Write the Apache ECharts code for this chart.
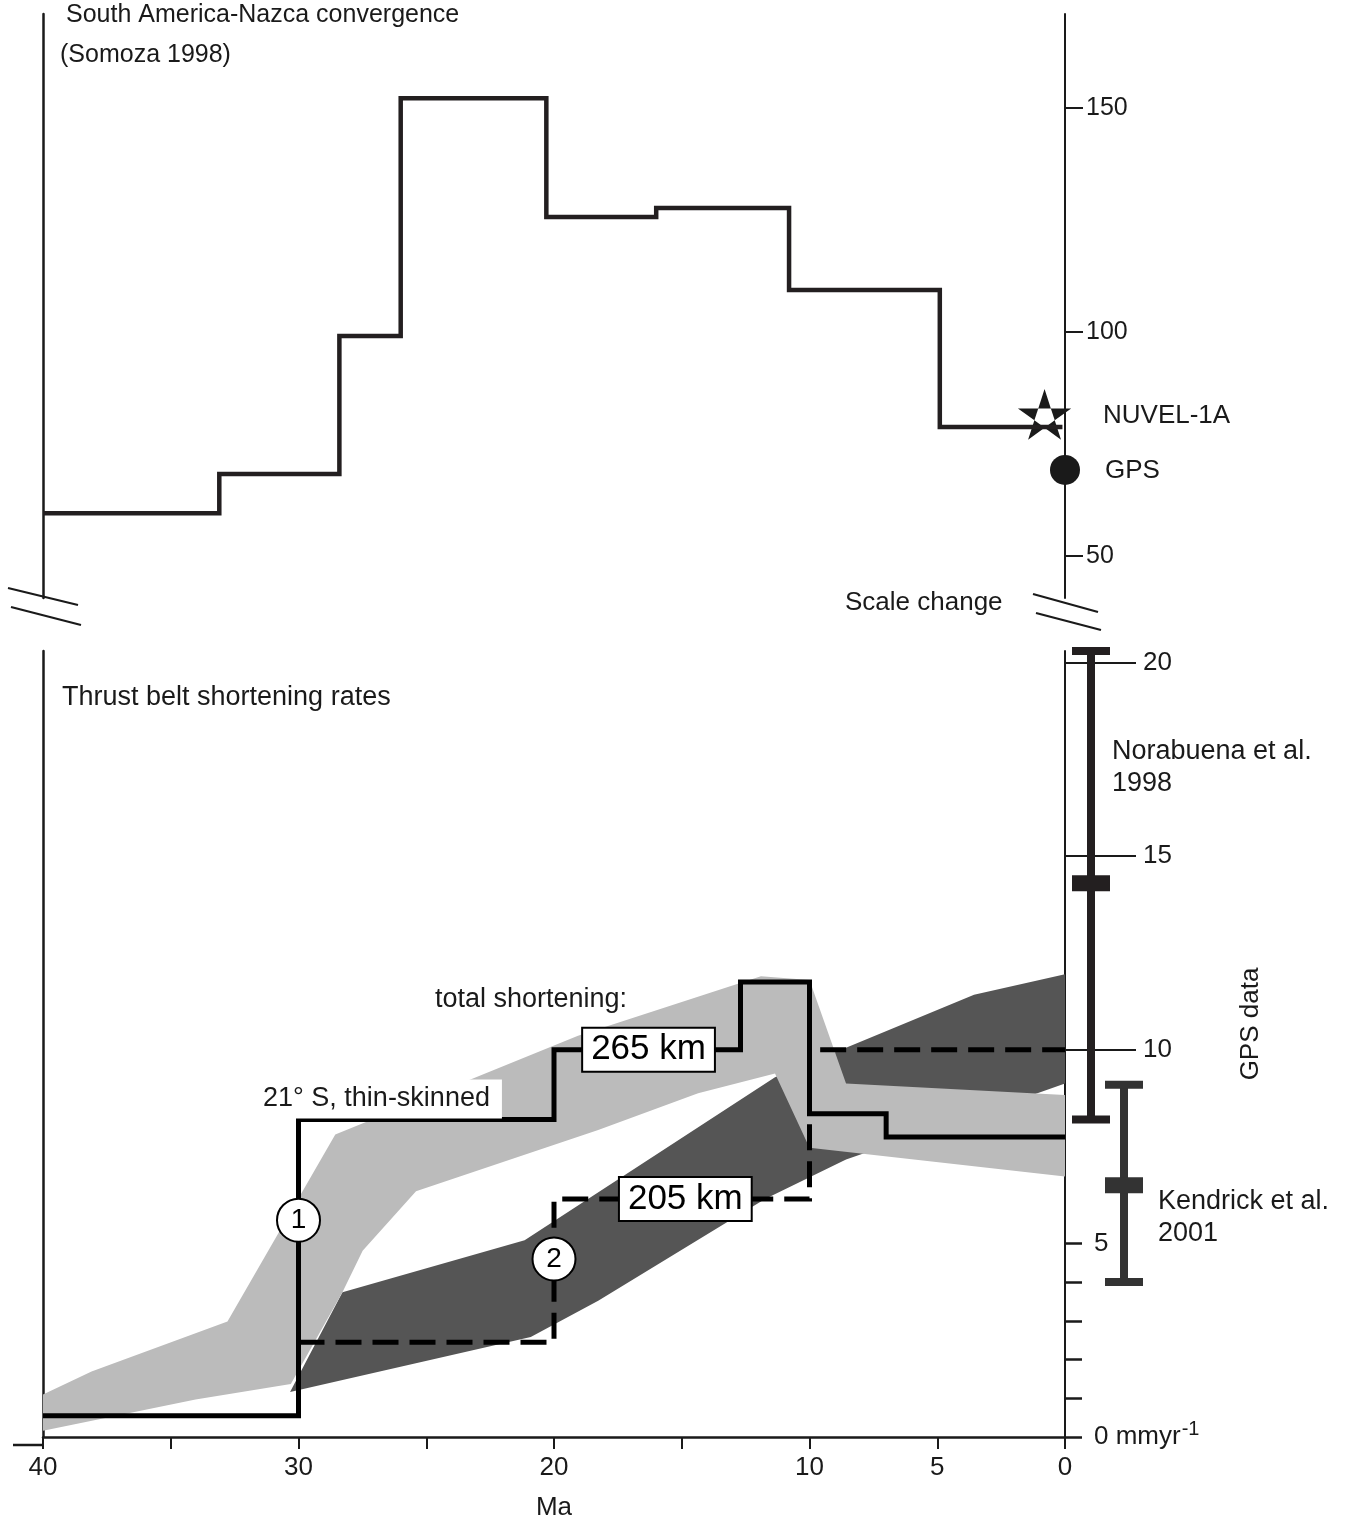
<!DOCTYPE html>
<html>
<head>
<meta charset="utf-8">
<script src="https://cdn.jsdelivr.net/npm/echarts@6/dist/echarts.min.js"></script>
<style>
  html, body { margin: 0; padding: 0; background: #fff; }
  #chart { width: 1358px; height: 1526px; }
</style>
</head>
<body>
<div id="chart"></div>
<script>
// ---------------- data ----------------
// South America–Nazca convergence (mm/yr), constant between age boundaries (Ma)
const convergenceEdgesMa = [40, 33.1, 28.4, 26.0, 20.3, 16.0, 10.8, 4.9, 0.1];
const convergenceRates   = [59.5, 68.3, 99.1, 152.2, 125.7, 127.7, 109.4, 78.8];
const nuvelPoint = [0.8, 81.0];   // NUVEL-1A
const gpsPoint   = [0, 69.2];     // GPS

// Thrust belt shortening rates (mm/yr)
// 1: 21° S thin-skinned (solid)
const beltOneEdgesMa = [40, 30, 20, 12.7, 10, 7, 0];
const beltOneRates   = [0.55, 8.2, 10.0, 11.75, 8.35, 7.75];
// 2: dashed estimate
const beltTwoEdgesMa = [30, 20, 10, 0];
const beltTwoRates   = [2.45, 6.15, 10.0];

// shaded envelopes, [Ma, mm/yr]
const lightBandUpper = [[40, 1.10], [38.1, 1.69], [32.78, 2.98], [28.56, 7.81], [19.06, 10.36],
                        [11.9, 11.9], [10.0, 11.8], [8.57, 9.13], [0, 8.83]];
const lightBandLower = [[40, 0.16], [34.03, 0.97], [30.3, 1.37], [28.28, 3.74], [27.49, 4.81],
                        [25.4, 6.35], [18.27, 7.93], [14.36, 8.88], [11.35, 9.39], [10.0, 7.47], [0, 6.73]];
const darkBandUpper  = [[30.33, 1.16], [28.28, 3.74], [21.15, 5.08], [11.35, 9.29], [8.57, 10.05],
                        [3.56, 11.42], [0, 11.95]];
const darkBandLower  = [[30.33, 1.16], [20.91, 2.58], [18.27, 3.52], [11.74, 6.15], [8.57, 7.17],
                        [1.08, 8.88], [0, 9.13]];

// circled curve numbers and total shortening boxes
const curveMarkers = [[30, 5.6, '1'], [20, 4.6, '2']];
const totalShortening = [[16.3, 10.0, '265 km'], [14.86, 6.15, '205 km']];

// GPS rates: Norabuena et al. 1998, Kendrick et al. 2001
const gpsNames = ['Norabuena et al.\n1998', 'Kendrick et al.\n2001'];
const gpsMid   = [14.3, 6.5];
const gpsLow   = [8.2, 4.0];
const gpsHigh  = [20.3, 9.1];

// axis ticks
const ageTicksLabelled   = [40, 30, 20, 10, 5, 0];
const convergenceTicks   = [50, 100, 150];
const rateMajorTicks     = [10, 15, 20];
const rateMinorTicks     = [0, 1, 2, 3, 4, 5];
const rateMinorLabels    = [0, 5];

// ---------------- layout / style ----------------
const INK = '#1a1a1a';
const FONT = '"Liberation Sans", Arial, Helvetica, sans-serif';
const font = s => s + 'px ' + FONT;
const PLOT_LEFT = 43;
const PLOT_RIGHT = 293;           // distance from the right edge of the canvas
const TOP_GRID = { top: 14, height: 584 };
const BOTTOM_GRID = { top: 651, height: 794 };
const BOTTOM_Y = BOTTOM_GRID.top + BOTTOM_GRID.height;
const GPS_BAR_OFFSETS = [26, 59];  // px right of the rate axis
const GPS_BAR_COLORS = ['#231f20', '#333333'];

function stepPoints(edges, rates) {
  const pts = [];
  rates.forEach((r, i) => { pts.push([edges[i], r]); pts.push([edges[i + 1], r]); });
  return pts;
}
function bandPolygon(upper, lower) {
  return upper.concat(lower.slice().reverse());
}

const hiddenAxisParts = {
  axisLine: { show: false }, axisTick: { show: false },
  axisLabel: { show: false }, splitLine: { show: false }
};
const frameAxis = (gridIndex, min, max) => ({
  type: 'value', gridIndex, position: 'left', min, max,
  axisLine: { show: true, onZero: false, lineStyle: { color: INK, width: 2.5 } },
  axisTick: { show: false }, axisLabel: { show: false }, splitLine: { show: false }
});

const chart = echarts.init(document.getElementById('chart'), null, { renderer: 'canvas' });

const option = {
  animation: false,
  backgroundColor: '#fff',
  grid: [
    { left: PLOT_LEFT, right: PLOT_RIGHT, top: TOP_GRID.top, height: TOP_GRID.height },
    { left: PLOT_LEFT, right: PLOT_RIGHT, top: BOTTOM_GRID.top, height: BOTTOM_GRID.height }
  ],
  xAxis: [
    Object.assign({ type: 'value', gridIndex: 0, min: 0, max: 40, inverse: true }, hiddenAxisParts),
    {
      type: 'value', gridIndex: 1, min: 0, max: 40, interval: 5, inverse: true,
      name: 'Ma', nameLocation: 'middle', nameGap: 58,
      nameTextStyle: { fontSize: 26, color: INK, fontFamily: FONT },
      axisLine: { onZero: false, lineStyle: { color: INK, width: 2.5 } },
      axisTick: { length: 12, lineStyle: { color: INK, width: 2 } },
      axisLabel: {
        margin: 18, fontSize: 26, color: INK, fontFamily: FONT,
        formatter: v => ageTicksLabelled.includes(v) ? String(v) : ''
      },
      splitLine: { show: false }
    }
  ],
  yAxis: [
    {
      type: 'value', gridIndex: 0, position: 'right', min: 40.6, max: 171,
      axisLine: { show: true, onZero: false, lineStyle: { color: INK, width: 2 } },
      axisTick: { show: true, customValues: convergenceTicks, length: 18, lineStyle: { color: INK, width: 2 } },
      axisLabel: { customValues: convergenceTicks, margin: 21, fontSize: 25, color: INK, fontFamily: FONT },
      splitLine: { show: false }
    },
    frameAxis(0, 40.6, 171),
    {
      type: 'value', gridIndex: 1, position: 'right', min: 0, max: 20.3,
      axisLine: { show: true, onZero: false, lineStyle: { color: INK, width: 2 } },
      axisTick: { show: true, customValues: rateMajorTicks, length: 71, lineStyle: { color: INK, width: 2 } },
      axisLabel: { customValues: rateMajorTicks, margin: 78, fontSize: 26, color: INK, fontFamily: FONT },
      splitLine: { show: false }
    },
    {
      type: 'value', gridIndex: 1, position: 'right', min: 0, max: 20.3,
      axisLine: { show: false, onZero: false },
      axisTick: { show: true, customValues: rateMinorTicks, length: 17, lineStyle: { color: INK, width: 2.5 } },
      axisLabel: {
        customValues: rateMinorLabels, margin: 29, fontSize: 26, color: INK, fontFamily: FONT,
        formatter: v => v === 0 ? '0 mmyr{sup|-1}' : String(v),
        rich: { sup: { fontSize: 20, fontFamily: FONT, color: INK, padding: [0, 0, 16, 1] } }
      },
      splitLine: { show: false }
    },
    frameAxis(1, 0, 20.3)
  ],
  series: [
    // ---- convergence panel ----
    {
      type: 'custom', coordinateSystem: 'cartesian2d', xAxisIndex: 0, yAxisIndex: 0, z: 2, silent: true,
      data: [nuvelPoint],
      renderItem: (params, api) => {
        const c = api.coord([api.value(0), api.value(1)]);
        const R = 28, r = R * 0.382;
        const star = [], inner = [];
        for (let k = 0; k < 10; k++) {
          const a = -Math.PI / 2 + k * Math.PI / 5;
          const rad = k % 2 === 0 ? R : r;
          star.push([c[0] + rad * Math.cos(a), c[1] + rad * Math.sin(a)]);
          if (k % 2 === 1) inner.push([c[0] + r * Math.cos(a), c[1] + r * Math.sin(a)]);
        }
        return { type: 'group', children: [
          { type: 'polygon', shape: { points: star }, style: { fill: INK } },
          { type: 'polygon', shape: { points: inner }, style: { fill: '#fff' } }
        ] };
      }
    },
    {
      type: 'line', xAxisIndex: 0, yAxisIndex: 0, z: 3, silent: true,
      data: stepPoints(convergenceEdgesMa, convergenceRates),
      symbol: 'none',
      lineStyle: { color: '#231f20', width: 4.5, join: 'miter', cap: 'butt' }
    },
    {
      type: 'scatter', xAxisIndex: 0, yAxisIndex: 0, z: 4, silent: true,
      data: [gpsPoint], symbol: 'circle', symbolSize: 30,
      itemStyle: { color: INK, opacity: 1 }
    },
    // ---- shortening panel ----
    {
      type: 'custom', coordinateSystem: 'cartesian2d', xAxisIndex: 1, yAxisIndex: 2, z: 1, silent: true,
      data: [[0, 0]],
      renderItem: (params, api) => ({ type: 'group', children: [
        { type: 'polygon', shape: { points: bandPolygon(darkBandUpper, darkBandLower).map(p => api.coord(p)) },
          style: { fill: '#555555' } },
        { type: 'polygon', shape: { points: bandPolygon(lightBandUpper, lightBandLower).map(p => api.coord(p)) },
          style: { fill: '#bbbbbb' } }
      ] })
    },
    {
      type: 'line', xAxisIndex: 1, yAxisIndex: 2, z: 3, silent: true,
      data: stepPoints(beltTwoEdgesMa, beltTwoRates), symbol: 'none',
      lineStyle: { color: '#000', width: 5, type: [26, 11], join: 'miter', cap: 'butt' }
    },
    {
      type: 'line', xAxisIndex: 1, yAxisIndex: 2, z: 4, silent: true,
      data: stepPoints(beltOneEdgesMa, beltOneRates), symbol: 'none',
      lineStyle: { color: '#000', width: 5, join: 'miter', cap: 'butt' }
    },
    {
      type: 'scatter', xAxisIndex: 1, yAxisIndex: 2, z: 6, silent: true,
      data: curveMarkers, symbol: 'circle', symbolSize: 43,
      itemStyle: { color: '#fff', borderColor: '#000', borderWidth: 2, opacity: 1 },
      label: { show: true, position: 'inside', formatter: p => p.data[2],
               fontSize: 28, color: '#000', fontFamily: FONT }
    },
    {
      type: 'scatter', xAxisIndex: 1, yAxisIndex: 2, z: 7, silent: true,
      data: totalShortening, symbolSize: 1, itemStyle: { color: 'rgba(0,0,0,0)', opacity: 1 },
      label: { show: true, position: 'inside', formatter: p => p.data[2],
               fontSize: 35, lineHeight: 38, color: '#000', fontFamily: FONT,
               backgroundColor: '#fff', borderColor: '#000', borderWidth: 2, padding: [2, 8, 2, 8] }
    },
    {
      type: 'custom', coordinateSystem: 'cartesian2d', xAxisIndex: 1, yAxisIndex: 2, z: 5, silent: true,
      clip: false,
      data: gpsMid.map((m, i) => [0, gpsLow[i], m, gpsHigh[i]]),
      renderItem: (params, api) => {
        const i = params.dataIndex;
        const x = api.coord([0, 0])[0] + GPS_BAR_OFFSETS[i];
        const yLow = api.coord([0, api.value(1)])[1];
        const yMid = api.coord([0, api.value(2)])[1];
        const yHigh = api.coord([0, api.value(3)])[1];
        const style = { fill: GPS_BAR_COLORS[i] };
        return { type: 'group', children: [
          { type: 'rect', shape: { x: x - 4, y: yHigh, width: 8, height: yLow - yHigh }, style },
          { type: 'rect', shape: { x: x - 19, y: yHigh - 4, width: 38, height: 8 }, style },
          { type: 'rect', shape: { x: x - 19, y: yLow - 4, width: 38, height: 8 }, style },
          { type: 'rect', shape: { x: x - 19, y: yMid - 8, width: 38, height: 16 }, style }
        ] };
      }
    }
  ],
  graphic: { elements: [] }
};

// ---- annotation text and decorations ----
const txt = (x, y, text, size, extra) => ({
  type: 'text', x, y, z: 100, silent: true,
  style: Object.assign({ text, font: font(size), fill: INK,
    align: 'left', verticalAlign: 'middle', textAlign: 'left', textVerticalAlign: 'middle' }, extra || {})
});
const seg = (x1, y1, x2, y2, w) => ({
  type: 'line', z: 100, silent: true,
  shape: { x1, y1, x2, y2 }, style: { stroke: INK, lineWidth: w || 2.2 }
});
const rightX = 1358 - PLOT_RIGHT;
const topBottom = TOP_GRID.top + TOP_GRID.height;

option.graphic.elements.push(
  txt(66, 15, 'South America-Nazca convergence', 25),
  txt(60, 55, '(Somoza 1998)', 25),
  txt(1103, 416, 'NUVEL-1A', 26),
  txt(1105, 471, 'GPS', 26),
  txt(845, 603, 'Scale change', 26),
  txt(62, 698, 'Thrust belt shortening rates', 27),
  txt(435, 1000, 'total shortening:', 27),
  txt(259, 1099, '21° S, thin-skinned', 27, { backgroundColor: '#fff', padding: [6, 12, 6, 4] }),
  txt(1112, 768, gpsNames[0], 27, { lineHeight: 32 }),
  txt(1158, 1218, gpsNames[1], 27, { lineHeight: 32 }),
  Object.assign(txt(1251, 1024, 'GPS data', 26, { align: 'center', textAlign: 'center' }),
    { rotation: Math.PI / 2 }),
  // scale-break marks
  seg(PLOT_LEFT - 35, topBottom - 10, PLOT_LEFT + 35, topBottom + 7),
  seg(PLOT_LEFT - 32, topBottom + 9, PLOT_LEFT + 38, topBottom + 27),
  seg(rightX - 32, topBottom - 4, rightX + 33, topBottom + 14),
  seg(rightX - 29, topBottom + 15, rightX + 36, topBottom + 32),
  // age axis continues a little left of the plot
  seg(13, BOTTOM_Y, PLOT_LEFT, BOTTOM_Y, 2.5)
);

chart.setOption(option);
</script>
</body>
</html>
